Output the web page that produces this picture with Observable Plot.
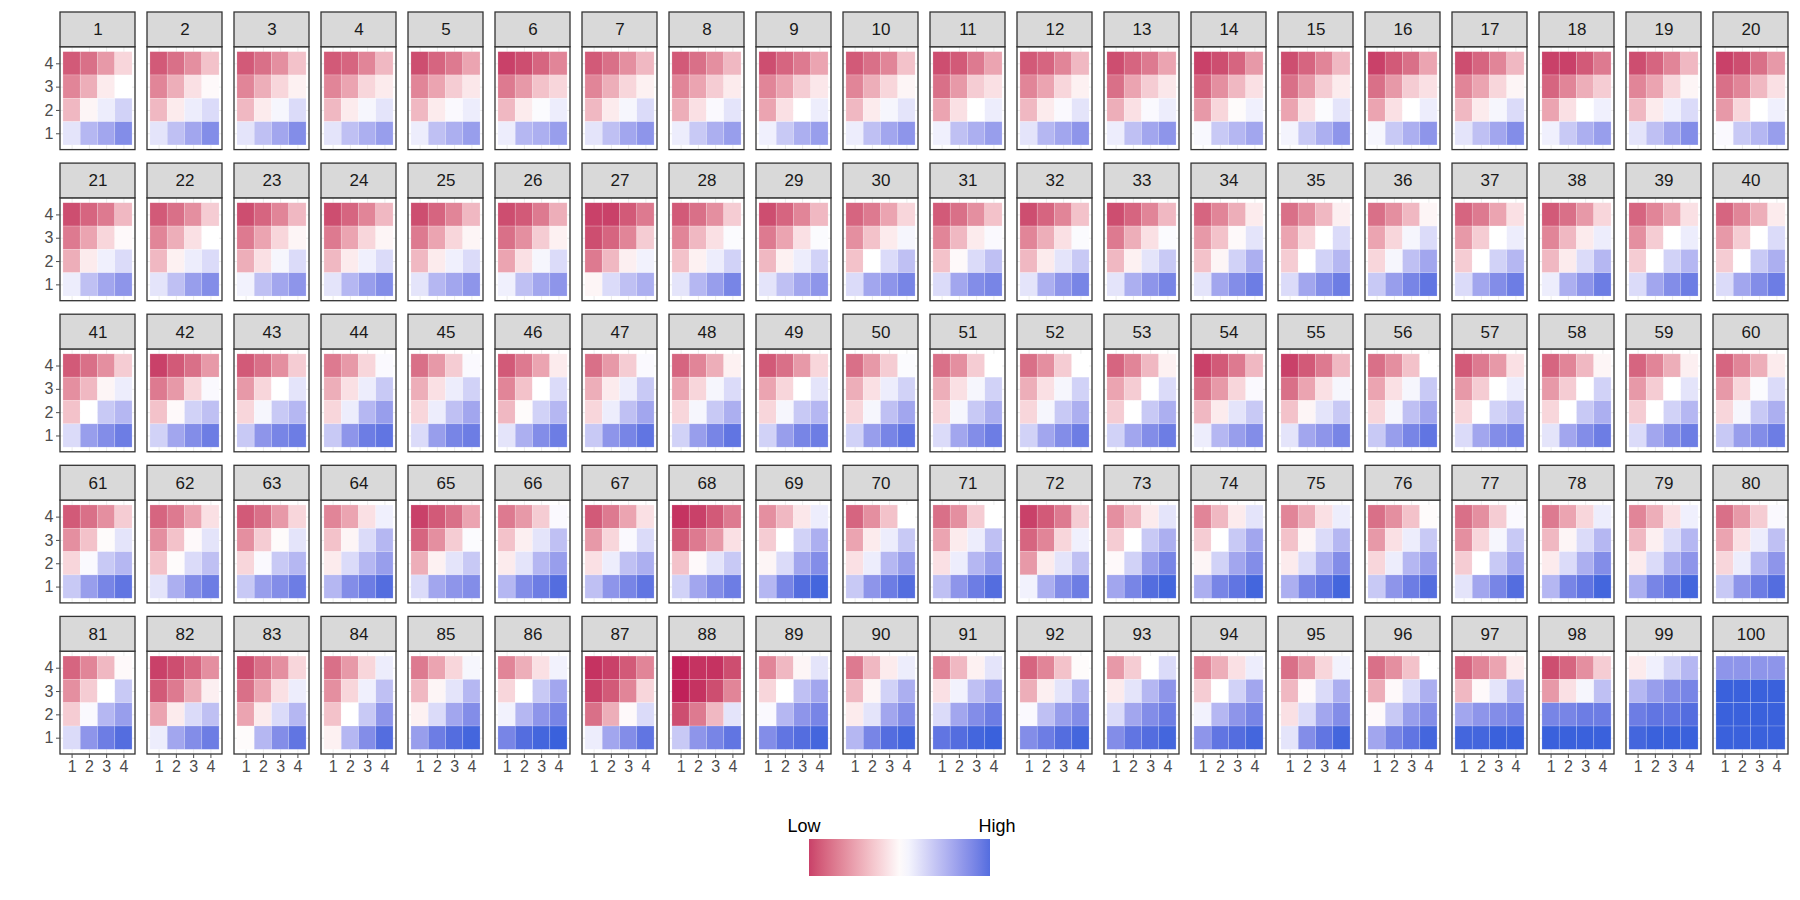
<!DOCTYPE html>
<html><head><meta charset="utf-8">
<script src="https://cdn.jsdelivr.net/npm/d3@7"></script>
<script src="https://cdn.jsdelivr.net/npm/@observablehq/plot@0.6"></script>
<style>
body{margin:0;background:#fff;font-family:"Liberation Sans",Arial,sans-serif;}
#chart svg,#legend svg{display:block}
#chart svg g[aria-label="y-axis tick label"], #chart svg g[aria-label="x-axis tick label"]{font-size:16px;fill:#4d4d4d;}
#chart svg g[aria-label="y-axis tick"], #chart svg g[aria-label="x-axis tick"]{stroke:#333333;}
</style></head><body><div id="chart"></div><div id="legend"></div>
<script>
// facet labels, tile categories, legend labels
const facetIds = d3.range(1, 101);
const xLevels = [1, 2, 3, 4];
const yLevels = [4, 3, 2, 1];
const legendLabels = ["Low", "High"];
// each facet: 16 values, rows y=4,3,2,1 (x=1..4 within each row); negative = Low (red), positive = High (blue)
const cellValues = [
[-8,-7,-5,-2, -6,-4,-1,0, -3.5,-0.5,1,2.5, 1.5,4,5,6.5],
[-8,-7,-5.5,-3, -6,-4,-1.5,-0.3, -3.5,-1,1,2, 1.5,3.5,5,6.5],
[-8,-7,-5.5,-3, -6,-4,-2,-0.7, -3.5,-1,0.5,2, 1.5,3.5,5,6.5],
[-8,-7.5,-6,-3.5, -6,-4.5,-2,-1, -3.5,-1,0.5,1.5, 1.5,3.5,4.5,5.5],
[-8.5,-7.5,-6.5,-4.5, -6,-4.5,-2.5,-1.2, -3.5,-1,0.3,1, 1,3.5,4.5,5.5],
[-9,-8.5,-7.5,-6, -6.5,-5,-3,-2, -3.5,-1,0.2,1, 1,4,4.5,5.5],
[-8,-7,-5.5,-3.5, -6,-4,-2,-0.7, -3.5,-1,0.5,2, 1.5,3.5,5,6],
[-8,-7,-5.5,-3.5, -6,-4.5,-2.5,-1, -4,-1.5,0.3,1.5, 1,3,4.5,5.5],
[-8.5,-7.5,-6.5,-4.5, -6,-4.5,-2.5,-1.2, -4.5,-1.5,0,1, 0.8,3,4.5,5.5],
[-8,-7,-6,-3, -6,-4,-2,-0.5, -3.5,-1,0.5,1.5, 1,3.5,5,6],
[-8.5,-8,-6.5,-4.5, -7,-5,-2.5,-1.5, -4.5,-1.5,0,1, 0.8,3.5,4.5,5.5],
[-8,-7.5,-6,-3.5, -6,-4.5,-2,-0.7, -3.5,-1,0.3,1.5, 1.5,4,5,6],
[-8.5,-7.5,-6.5,-4.5, -7,-4.5,-2.5,-1.2, -4,-1.5,0.3,1, 1,3.5,5,6],
[-9,-8.5,-7.5,-5, -7.5,-5.5,-3.5,-1.5, -5,-2,-0.2,0.8, 0.4,3,4,5],
[-8.5,-7.5,-6,-3.5, -7,-5,-2.5,-1, -4.5,-1.5,0.2,1.5, 0.6,3,4.5,6],
[-9,-8,-7,-4.5, -7,-5,-2.5,-1.5, -4.5,-1.5,0,1, 0.5,3,4.5,6],
[-8.5,-7.5,-6,-3.5, -6,-4.5,-2,-0.5, -3.5,-1,0.5,2, 1.5,3.5,5,6.5],
[-9,-9,-8,-6.5, -7.5,-6,-4,-2.5, -4.5,-1.5,0,0.8, 0.8,3,4.5,5.5],
[-8.5,-7.5,-6,-3.5, -6,-4.5,-2,-0.5, -3.5,-1,0.8,2, 1.5,3.5,5,6.5],
[-9,-8.5,-7,-5, -7,-6,-3.5,-1.5, -5,-2,0,0.8, 0.3,3,4,5.5],
[-8.5,-7.5,-6.5,-3.5, -6.5,-4.5,-2,-0.3, -4,-1,0.8,2, 1,3.5,5,6],
[-8,-7,-5.5,-2.5, -6,-4,-1.5,0, -3.5,-0.7,1,2, 1.5,3.5,5.5,6.5],
[-8.5,-7.5,-6,-3.5, -6.5,-4.5,-2,-0.5, -4,-1.5,0.5,2, 0.7,3.5,5,6],
[-8.5,-7.5,-6,-3.5, -6.5,-4.5,-2,-0.5, -3.5,-1,0.8,2, 1.5,4,5.5,6.5],
[-8.5,-7.5,-6,-3.5, -6.5,-4.5,-2,-0.5, -3.5,-1,0.8,2, 1.5,4,5,6],
[-8.5,-8,-6.5,-4, -7,-5.5,-2.5,-0.7, -4.5,-1.5,0.5,2, 0.8,3.5,5,6],
[-9,-9,-8,-6.5, -8.5,-7.5,-6,-2.5, -6.5,-3.5,-0.8,0.7, -0.5,2,3.5,4.5],
[-8,-7,-5.5,-2.5, -6,-3.5,-1.5,0.2, -3,-0.7,1,2.5, 1.5,4,5.5,7],
[-8.5,-7.5,-6,-3.5, -6.5,-4.5,-1.5,0.2, -3.5,-0.7,1,2.5, 1.5,3.5,5,6],
[-7.5,-6.5,-4.5,-2, -5.5,-3,-1,0.5, -3,0,2,3.5, 2,5,6,7],
[-8,-7,-5.5,-3, -6,-3.5,-1,0.3, -3,-0.3,2,3.5, 2,5,6.5,7],
[-8.5,-7.5,-6,-3, -6,-4,-1.5,0.2, -3.5,-1,1.5,3, 1.5,4.5,6,7],
[-8.5,-7.5,-6,-3.5, -6.5,-4,-1.5,0.2, -3.5,-0.7,1.5,3, 1.5,4.5,6,7],
[-7.5,-6,-4,-1, -5,-3,-0.3,1.5, -3,-0.5,2.5,4.5, 1.5,5,6.5,7.5],
[-7,-5.5,-3.5,-0.8, -4.5,-2,0,2, -2.5,0,2.5,4, 2,5,6.5,7.5],
[-7,-5.5,-3.5,-0.5, -4.5,-2,0.5,2, -2,0.5,3.5,5, 3,5.5,7,8],
[-7.5,-6.5,-4.5,-1.5, -5,-2.5,0,1, -2.5,0,2.5,4, 2,5,6.5,7.5],
[-8,-7,-5,-2, -6,-3.5,-1,1, -3.5,-1,2,4, 1,4.5,6,7.5],
[-7.5,-6,-4.5,-1.5, -5.5,-2.5,0,1, -2.5,0,2.5,4, 2,5,6.5,7.5],
[-7.5,-6,-4,-1, -5,-2.5,0,2, -2.5,0,3,4.5, 2,5,6.5,7.5],
[-8,-7,-5.5,-2.5, -5.5,-3.5,-0.5,1, -3,0,3,4, 2,5.5,6.5,7.5],
[-9,-8,-7,-5, -6.5,-5,-2,0.3, -3,-0.3,2.5,3.5, 2.5,5,6.5,7.5],
[-8,-7,-5.5,-2.5, -5,-2,0,1.5, -2,0.5,3,4, 3,6,7,7.5],
[-6.5,-5,-2,0.3, -4,-1.5,1,3, -2,1,4,5.5, 3,6,7.5,8],
[-7,-5,-2.5,0.3, -4,-1.5,1,2.5, -2,1,3.5,5, 2,5.5,7,7.5],
[-8,-6.5,-4.5,-1, -6,-3,0,2, -3.5,-0.2,2.5,4, 1.5,4.5,6.5,7.5],
[-7,-5,-2.5,0.3, -4,-1,1,3, -2,1,3.5,5, 3,6,7,8],
[-7.5,-6,-4,-0.7, -4.5,-2,0.5,2, -2,0.5,3,4.5, 2.5,5.5,7,8],
[-8,-7,-5,-2, -4.5,-2,0,1.5, -2,0.5,3,4, 2.5,5.5,7,7.5],
[-7,-5,-2.5,0.2, -4,-1.5,1,2.5, -2,0.5,3.5,5, 2.5,5.5,7,8],
[-7,-5.5,-2.5,0, -4,-1.5,0.5,2.5, -2,0.5,3,4.5, 2,5,6.5,7.5],
[-7,-5.5,-2.5,0, -4,-1.5,0.5,2.5, -2,0.5,3,4.5, 2.5,5,6.5,7.5],
[-7.5,-6,-3.5,-0.7, -4.5,-2.5,0,2, -2.5,0,3,4.5, 2.5,5,6.5,7.5],
[-9,-8,-6.5,-3.5, -7,-5,-2,0.3, -3.5,-1,1.5,3, 1,4,5.5,6.5],
[-9,-8,-6.5,-3.5, -7,-4.5,-1.5,0.5, -3,-0.5,1.5,3, 1.5,5,6,7],
[-7,-5.5,-3,0, -4.5,-1.5,0.5,3, -2,0.5,3.5,5, 3,5.5,7,8],
[-8,-6.5,-5,-1.5, -5,-2.5,0,1, -2,0,2.5,3.5, 2,5,6.5,7],
[-7.5,-6,-3.5,-0.5, -5,-2.5,0,2.5, -2,0,3,4.5, 1.5,5,6.5,7.5],
[-7.5,-6,-4,-0.8, -5,-2.5,0,1.5, -2.5,0,2.5,4, 2,5,6.5,7.5],
[-7.5,-6,-4,-1, -5,-2,0.2,2, -2,0.5,3,4.5, 3,5.5,6.5,7.5],
[-8,-7,-5.5,-2.5, -5.5,-3,-0.2,1.5, -2,0.3,3,4, 3,5.5,7,8],
[-7.5,-6.5,-4.5,-1.5, -5.5,-3,-0.3,1.5, -3,-0.2,2,3.5, 1.5,4.5,6.5,7.5],
[-8,-7,-5,-2, -5.5,-2.5,-0.2,1.5, -2,0.3,3,4, 3,5.5,6.5,7.5],
[-6,-4.5,-1.5,0.8, -3,-0.5,2,4, -1,2,4,5.5, 4,6.5,7.5,8.5],
[-9,-8,-7,-4.5, -7.5,-5.5,-2.5,0.2, -4,-0.7,1.5,3, 2,5,6,6.5],
[-6.5,-5,-2.5,0.3, -3,-0.8,1.5,3.5, -1,1.5,4,5.5, 4,6.5,7.5,8.5],
[-8,-6.5,-4.5,-1.5, -5,-2,0.3,2, -1.5,1,3.5,4.5, 3.5,6,7,8],
[-9.5,-9,-8,-6.5, -8,-6.5,-5,-1.5, -3,-0.3,1.5,3, 2.5,5,6.5,7.5],
[-5.5,-3.5,-1.2,1, -2.5,0,2.5,4.5, -0.5,2,5,6.5, 4,7,8.5,9],
[-7.5,-5.5,-3,0, -4.5,-1,1,3, -1.5,1,4,5.5, 3,6,7.5,8.5],
[-7,-5.5,-2.5,0, -4.5,-1,1,3.5, -1.5,1,4,5.5, 3.5,6,7.5,8.5],
[-9,-8,-6.5,-2.5, -7.5,-6,-2,0.8, -5,-1,1.5,3.5, 0.7,4.5,6.5,7.5],
[-5.5,-3.5,-1,1.5, -2.5,0,3,4.5, -0.3,2.5,5.5,7, 5,7,8.5,9],
[-6,-3.5,-1,1.5, -2.5,0,3,5, -0.5,2.5,5,6.5, 4.5,7,8,9],
[-6,-4,-1.5,1, -3,-0.5,2,4, -1,2,4.5,6.5, 4.5,7,8,9],
[-7,-5.5,-3,-0.2, -5,-1.5,1,3, -2,1,4,5.5, 3,6,7.5,8.5],
[-7,-5.5,-2.5,0.3, -5.5,-2,0.5,3, -2.5,0,3,5, 1.5,5,7,8.5],
[-6.5,-4.5,-2,1, -3.5,-0.5,2,4, -1,2,4.5,6.5, 4,7,8,9],
[-6,-4,-1.5,0.8, -3.5,-0.8,2,4, -1,2,4.5,6, 4.5,7,8,9],
[-7,-5,-2.5,0.3, -4.5,-1.5,1,3.5, -2,1,4,6, 3,6,7.5,8.5],
[-7.5,-6,-3.5,-0.3, -5.5,-2.5,0,3, -2.5,0.3,4,5.5, 2,6,7.5,8.5],
[-9,-8.5,-7.5,-5.5, -8,-6.5,-4,-0.8, -4.5,-1,2,3.5, 1,5,6.5,7.5],
[-8.5,-7,-5.5,-2, -7,-4.5,-1.5,1, -4.5,-1,2,4, -0.2,4,6.5,8],
[-7,-5,-2,1, -5.5,-2,0.8,3.5, -3,0,3,6, -0.7,4,6.5,8.5],
[-6.5,-4.5,-2,0.5, -3.5,-0.5,1.5,4, -0.7,2,5,6.5, 5.5,7.5,8.5,9],
[-6,-4,-1.5,0.7, -2,0,3,5, 0.7,4,6,7, 7,8.5,9,9.5],
[-9.5,-9,-8,-6, -9,-8,-6,-2, -7,-4,-0.3,2, 1,5,6.5,8],
[-10,-9.5,-9.5,-8.5, -10,-9.5,-8.5,-6, -8.5,-6.5,-3.5,1.5, 3,6,7,8],
[-6,-3.5,-0.5,1.5, -2,0,3.5,5, 0.3,4,6,7, 6.5,8,8.5,9],
[-6.5,-3.5,-1,1, -3.5,-0.5,2.5,4.5, -1,1.5,5,6.5, 4,7,8.5,9],
[-6,-3.5,-0.7,1.5, -1.5,0.7,3.5,5, 2,5,6.5,7.5, 8,8.5,9,9.5],
[-7.5,-6,-3,-0.2, -4,-0.8,1.5,4, 0.3,3.5,5.5,6.5, 6.5,7.5,8.5,9],
[-5,-2.5,0,2, -1,1.5,4,6, 2,5,6.5,7.5, 6.5,8,8.5,9],
[-6,-4,-1.5,1, -2.5,0,2.5,5, 0.7,4,6,7, 6,8,8.5,9],
[-7,-5,-2,0.7, -3.5,-0.3,2,4.5, -1.5,2,5,6.5, 1.5,6.5,8,9],
[-7,-5.5,-3,0, -4,-0.3,2,4.5, -0.3,3,5.5,6.5, 5,7,8,9],
[-7.5,-6,-4.5,-1, -3.5,-0.3,1.5,4, 5,6,6.5,7, 9,9,9.5,9.5],
[-8.5,-7.5,-5.5,-2.5, -5,-1.5,0.5,3.5, 7,7,7.5,7.5, 9.5,9.5,9.5,9.5],
[-1,0.8,2.5,4, 4,5.5,6.5,7, 7.5,8,8,8.5, 9,9.5,9.5,9.5],
[6,6,6,6, 9.5,9.5,9.5,9.5, 9.5,9.5,9.5,9.5, 9.5,9.5,9.5,9.5]
];

const nCols = 20;
const facets = facetIds.map((id, i) => ({id, col: i % nCols + 1, row: Math.floor(i / nCols) + 1}));
const cells = facets.flatMap((f, i) =>
  yLevels.flatMap((yv, r) => xLevels.map((xv, c) => ({...f, x: xv, y: yv, value: cellValues[i][r * 4 + c]}))));
const gridX = facets.flatMap(f => xLevels.map(v => ({...f, v})));
const gridY = facets.flatMap(f => yLevels.map(v => ({...f, v})));

// panel geometry in data units
const X0 = 0.33, X1 = 4.67, Y0 = 0.3, YP = 4.71, Y1 = 6.2;
const colorOpts = {type: "linear", domain: [-10, 0, 9.3], range: ["#c0215a", "#ffffff", "#3a61dc"], interpolate: "lab", clamp: true};

const chart = Plot.plot({
  width: 1800, height: 790,
  marginTop: 12, marginRight: 12, marginBottom: 36, marginLeft: 60,
  style: {fontFamily: "'Liberation Sans', Arial, sans-serif", background: "white"},
  fx: {domain: d3.range(1, 21), paddingInner: 12 / 87, paddingOuter: 0, axis: null, round: false},
  fy: {domain: [1, 2, 3, 4, 5], paddingInner: 13.5 / 151, paddingOuter: 0, axis: null, round: false},
  x: {domain: [X0, X1], axis: null},
  y: {domain: [Y0, Y1], axis: null},
  color: colorOpts,
  marks: [
    Plot.ruleX(gridX, {fx: "col", fy: "row", x: "v", y1: Y0, y2: YP, stroke: "#ebebeb", strokeWidth: 1}),
    Plot.ruleY(gridY, {fx: "col", fy: "row", y: "v", x1: X0, x2: X1, stroke: "#ebebeb", strokeWidth: 1}),
    Plot.rect(cells, {fx: "col", fy: "row", x1: d => d.x - 0.5, x2: d => d.x + 0.5, y1: d => d.y - 0.5, y2: d => d.y + 0.5,
      fill: "value", stroke: "white", strokeOpacity: 0.3, strokeWidth: 0.6}),
    Plot.rect(facets, {fx: "col", fy: "row", x1: X0, x2: X1, y1: Y0, y2: YP, fill: "none", stroke: "#333333", strokeWidth: 1.3}),
    Plot.rect(facets, {fx: "col", fy: "row", x1: X0, x2: X1, y1: YP, y2: Y1, fill: "#d9d9d9", stroke: "#333333", strokeWidth: 1.3}),
    Plot.text(facets, {fx: "col", fy: "row", x: (X0 + X1) / 2, y: (YP + Y1) / 2, text: d => String(d.id), fontSize: 17, fill: "#1a1a1a"}),
    Plot.axisY(yLevels, {tickSize: 4, tickPadding: 3, fontSize: 16, color: "#4d4d4d", label: null}),
    Plot.axisX(xLevels, {tickSize: 4, tickPadding: 2, fontSize: 16, color: "#4d4d4d", label: null})
  ]
});
document.getElementById("chart").appendChild(chart);

// legend (colour bar with labels on top), colours from the same Plot scale
const cs = Plot.scale({color: colorOpts});
const lsvg = d3.select("#legend").append("svg").attr("width", 1800).attr("height", 100)
  .style("font-family", "'Liberation Sans', Arial, sans-serif");
const grad = lsvg.append("defs").append("linearGradient").attr("id", "lg").attr("x1", "0%").attr("x2", "100%");
d3.range(0, 1.0001, 0.05).forEach(t => grad.append("stop").attr("offset", (t * 100) + "%").attr("stop-color", cs.apply(-9 + 17.5 * t)));
const bx = 809, bw = 181, by = 49, bh = 37;
lsvg.append("rect").attr("x", bx).attr("y", by).attr("width", bw).attr("height", bh).attr("fill", "url(#lg)");
lsvg.selectAll("text.lab").data(legendLabels).join("text").attr("class", "lab")
  .attr("x", (d, i) => i === 0 ? bx - 5 : bx + bw + 7).attr("y", 42).attr("text-anchor", "middle")
  .attr("font-size", 18).attr("fill", "#000").text(d => d);
</script></body></html>
